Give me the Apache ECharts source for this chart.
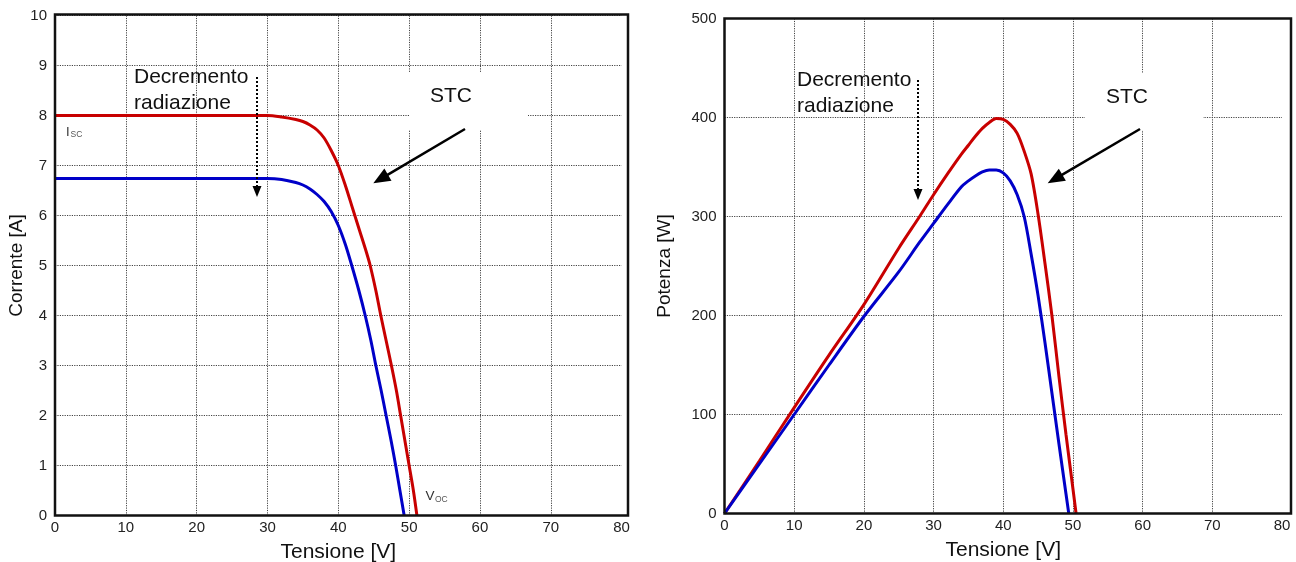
<!DOCTYPE html>
<html>
<head>
<meta charset="utf-8">
<script src="https://cdn.jsdelivr.net/npm/echarts@6/dist/echarts.min.js"></script>
<style>
  html, body { margin: 0; padding: 0; background: #fff; }
  #chart { width: 1296px; height: 562px; }
</style>
</head>
<body>
<div id="chart"></div>
<script>
// ---- Data ----
const xTickMax = 80;
const ivVoltageSTC = [0, 10, 20, 28, 30, 32, 34, 35, 36, 37, 38, 39, 40, 41, 42, 43, 44, 44.5, 45.3, 46, 46.75, 47.5, 48.2, 48.8, 49.4, 50, 50.6, 51.1];
const ivCurrentSTC = [8, 8, 8, 8, 8, 7.97, 7.92, 7.88, 7.81, 7.71, 7.55, 7.3, 7.0, 6.6, 6.15, 5.7, 5.25, 5.0, 4.5, 4.0, 3.5, 3.0, 2.5, 2.0, 1.5, 1.0, 0.5, 0];
const ivVoltageLow = [0, 10, 20, 28, 30, 32, 34, 35, 36, 37, 38, 39, 40, 41, 41.9, 42.9, 43.8, 44.6, 45.3, 46.05, 46.75, 47.45, 48.1, 48.7, 49.3];
const ivCurrentLow = [6.74, 6.74, 6.74, 6.74, 6.74, 6.72, 6.66, 6.61, 6.53, 6.42, 6.28, 6.08, 5.8, 5.42, 5.0, 4.5, 4.0, 3.5, 3.0, 2.5, 2.0, 1.5, 1.0, 0.5, 0];

const pvVoltageSTC = [0, 5, 10, 15, 20, 25, 28, 30, 32, 34, 35, 36, 37, 38, 39, 40, 41, 42, 43, 44, 45, 46, 47, 48, 49, 50, 50.45];
const pvPowerSTC = [0, 53, 107, 160, 211, 268, 300, 322, 343, 363, 372, 381, 389, 395, 399, 398, 393, 384, 366, 343, 302, 252, 199, 138, 80, 25, 0];
const pvVoltageLow = [0, 5, 10, 15, 20, 25, 28, 30, 32, 34, 35, 36, 37, 38, 39, 40, 41, 42, 43, 44, 45, 46, 47, 48, 49, 49.4];
const pvPowerLow = [0, 50, 100, 150, 199, 244, 274, 293, 312, 330, 336, 341, 345, 347, 347, 344, 336, 322, 300, 262, 220, 172, 121, 70, 20, 0];

const labelDecrement = 'Decremento\nradiazione';
const labelSTC = 'STC';
const axisNameV = 'Tensione [V]';
const axisNameI = 'Corrente [A]';
const axisNameP = 'Potenza [W]';

// ---- Build ----
const FONT = "'Liberation Sans', Arial, sans-serif";
const RED = '#c80000';
const BLUE = '#0000c8';
const GRIDLINE = { type: [1.2, 1.2], color: '#444', width: 1 };
const zip = (a, b) => a.map((v, i) => [v, b[i]]);

function xAxisCfg(gi) {
  return {
    gridIndex: gi, type: 'value', min: 0, max: xTickMax, interval: 10,
    name: axisNameV, nameLocation: 'middle', nameGap: 26,
    nameTextStyle: { fontFamily: FONT, fontSize: 21, color: '#111' },
    axisLine: { show: false }, axisTick: { show: false },
    axisLabel: { fontFamily: FONT, fontSize: 15, color: '#222', margin: 5 },
    splitLine: { show: true, showMaxLine: false, lineStyle: GRIDLINE }
  };
}
function yAxisCfg(gi, max, interval, name, gap) {
  return {
    gridIndex: gi, type: 'value', min: 0, max: max, interval: interval,
    name: name, nameLocation: 'middle', nameGap: gap,
    nameTextStyle: { fontFamily: FONT, fontSize: 19, color: '#111' },
    axisLine: { show: false }, axisTick: { show: false },
    axisLabel: { fontFamily: FONT, fontSize: 15, color: '#222', margin: 8 },
    splitLine: { show: true, lineStyle: GRIDLINE }
  };
}
function lineSeries(xi, data, color) {
  return {
    type: 'line', xAxisIndex: xi, yAxisIndex: xi, data: data,
    showSymbol: false, smooth: 0.3,
    lineStyle: { color: color, width: 3 }, z: 3, silent: true
  };
}
function arrow(x1, y1, x2, y2, len, half, dash) {
  const dx = x2 - x1, dy = y2 - y1, L = Math.hypot(dx, dy);
  const ux = dx / L, uy = dy / L;
  const bx = x2 - ux * len, by = y2 - uy * len;
  const nx = -uy, ny = ux;
  return [
    { type: 'line', z: 20, shape: { x1: x1, y1: y1, x2: bx + ux * 1, y2: by + uy * 1 },
      style: { stroke: '#000', lineWidth: dash ? 2 : 2.5, lineDash: dash ? [2, 2] : null } },
    { type: 'polygon', z: 20, shape: { points: [[x2, y2], [bx + nx * half, by + ny * half], [bx - nx * half, by - ny * half]] },
      style: { fill: '#000' } }
  ];
}

const graphics = [
  // white masks behind STC labels
  { type: 'rect', z: 10, shape: { x: 409, y: 72, width: 119, height: 58 }, style: { fill: '#fff' } },
  { type: 'rect', z: 10, shape: { x: 1085, y: 73, width: 118, height: 57 }, style: { fill: '#fff' } },
  // plot frames
  { type: 'rect', z: 30, shape: { x: 55, y: 14.5, width: 573, height: 501 }, style: { fill: null, stroke: '#111', lineWidth: 2.5 } },
  { type: 'rect', z: 30, shape: { x: 724.5, y: 18.5, width: 566.5, height: 495 }, style: { fill: null, stroke: '#111', lineWidth: 2.5 } },
  // texts
  { type: 'text', z: 20, style: { x: 134, y: 64, text: labelDecrement, font: '21px ' + FONT, lineHeight: 26, fill: '#111' } },
  { type: 'text', z: 20, style: { x: 797, y: 67, text: labelDecrement, font: '21px ' + FONT, lineHeight: 26, fill: '#111' } },
  { type: 'text', z: 20, style: { x: 451, y: 96, text: labelSTC, font: '21px ' + FONT, fill: '#111', textAlign: 'center', textVerticalAlign: 'middle' } },
  { type: 'text', z: 20, style: { x: 1127, y: 97, text: labelSTC, font: '21px ' + FONT, fill: '#111', textAlign: 'center', textVerticalAlign: 'middle' } },
  // Isc / Voc
  { type: 'text', z: 20, style: { x: 66, y: 125.5, text: 'I', font: '13px ' + FONT, fill: '#333' } },
  { type: 'text', z: 20, style: { x: 70.5, y: 130.5, text: 'SC', font: '8.5px ' + FONT, fill: '#555' } },
  { type: 'text', z: 20, style: { x: 425.5, y: 489, text: 'V', font: '13.5px ' + FONT, fill: '#333' } },
  { type: 'text', z: 20, style: { x: 435, y: 495, text: 'OC', font: '8.5px ' + FONT, fill: '#555' } }
].concat(
  arrow(257, 77, 257, 197, 11, 4.5, true),
  arrow(918, 80, 918, 200, 11, 4.5, true),
  arrow(465, 129, 373.3, 183.3, 17, 7, false),
  arrow(1140, 129, 1047.7, 183.3, 17, 7, false)
);

const option = {
  animation: false,
  backgroundColor: '#fff',
  grid: [
    { left: 55, top: 15.5, width: 566.6, height: 500, containLabel: false, outerBoundsMode: 'none' },
    { left: 724.5, top: 18.5, width: 557.5, height: 495, containLabel: false, outerBoundsMode: 'none' }
  ],
  xAxis: [xAxisCfg(0), xAxisCfg(1)],
  yAxis: [yAxisCfg(0, 10, 1, axisNameI, 24), yAxisCfg(1, 500, 100, axisNameP, 50)],
  series: [
    lineSeries(0, zip(ivVoltageSTC, ivCurrentSTC), RED),
    lineSeries(0, zip(ivVoltageLow, ivCurrentLow), BLUE),
    lineSeries(1, zip(pvVoltageSTC, pvPowerSTC), RED),
    lineSeries(1, zip(pvVoltageLow, pvPowerLow), BLUE)
  ],
  graphic: graphics
};

const chart = echarts.init(document.getElementById('chart'), null, { renderer: 'canvas' });
chart.setOption(option);
</script>
</body>
</html>
